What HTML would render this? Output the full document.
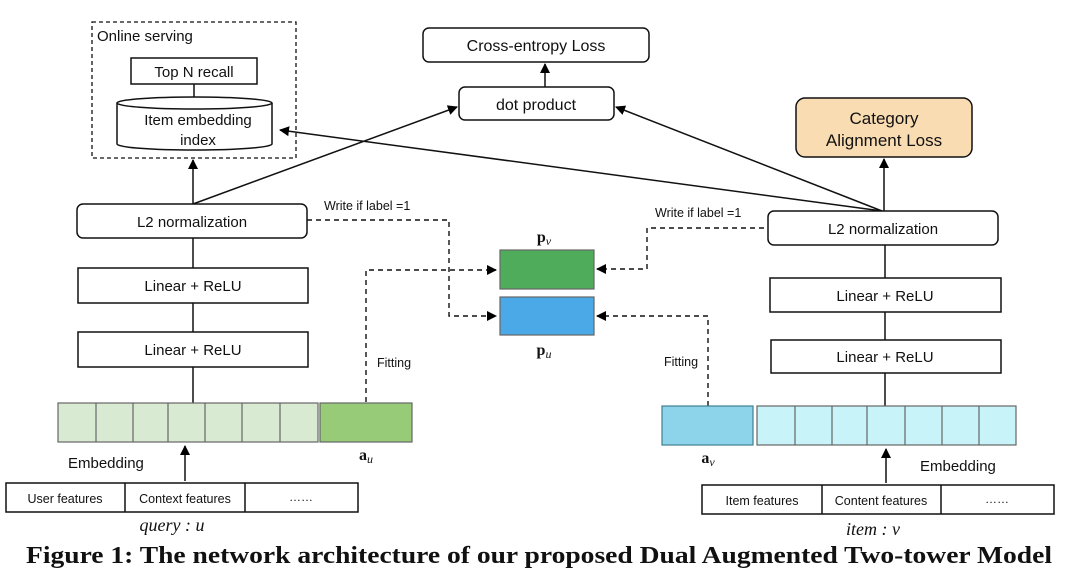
<!DOCTYPE html>
<html><head><meta charset="utf-8"><style>
html,body{margin:0;padding:0;background:#fff;}
svg{display:block;}
text{font-family:"Liberation Sans",sans-serif;fill:#111;}
text.s, tspan.s{font-family:"Liberation Serif",serif;}
.m{font-family:"Liberation Serif",serif;font-style:italic;}
</style></head><body>
<svg width="1080" height="579" viewBox="0 0 1080 579" xmlns="http://www.w3.org/2000/svg">
<defs>
<marker id="a" markerWidth="10" markerHeight="10" refX="9" refY="5" orient="auto" markerUnits="userSpaceOnUse"><path d="M0,0 L10,5 L0,10 z" fill="#000"/></marker>
</defs>
<g stroke="#111" stroke-width="1.5" fill="none">
<rect x="92" y="22" width="204" height="136" stroke-dasharray="4,3" stroke-width="1.3"/>
<rect x="131" y="58" width="126" height="26" fill="#fff"/>
<line x1="194" y1="84" x2="194" y2="97"/>
<path d="M117,103 L117,144 A77,6 0 0 0 272,144 L272,103" fill="#fff"/>
<ellipse cx="194.5" cy="103" rx="77.5" ry="6" fill="#fff"/>
<line x1="193" y1="204" x2="193" y2="160" marker-end="url(#a)"/>
<rect x="77" y="204" width="230" height="34" rx="6" fill="#fff"/>
<line x1="193" y1="238" x2="193" y2="268"/>
<rect x="78" y="268" width="230" height="35" fill="#fff"/>
<line x1="193" y1="303" x2="193" y2="332"/>
<rect x="78" y="332" width="230" height="35" fill="#fff"/>
<line x1="193" y1="367" x2="193" y2="403"/>
<rect x="423" y="28" width="226" height="34" rx="6" fill="#fff"/>
<rect x="459" y="87" width="155" height="33" rx="6" fill="#fff"/>
<line x1="545" y1="87" x2="545" y2="64" marker-end="url(#a)"/>
<rect x="796" y="98" width="176" height="59" rx="9" fill="#f9dcb2"/>
<line x1="193" y1="204" x2="457" y2="107" marker-end="url(#a)"/>
<line x1="882" y1="211" x2="616" y2="107" marker-end="url(#a)"/>
<line x1="882" y1="211" x2="280" y2="130" marker-end="url(#a)"/>
<line x1="884" y1="211" x2="884" y2="159" marker-end="url(#a)"/>
<rect x="768" y="211" width="230" height="34" rx="6" fill="#fff"/>
<line x1="885" y1="245" x2="885" y2="278"/>
<rect x="770" y="278" width="231" height="34" fill="#fff"/>
<line x1="885" y1="312" x2="885" y2="340"/>
<rect x="771" y="340" width="230" height="33" fill="#fff"/>
<line x1="885" y1="373" x2="885" y2="406"/>
<g stroke-dasharray="5,4" stroke-width="1.4">
<path d="M307,220 L449,220 L449,316 L496,316" marker-end="url(#a)"/>
<path d="M366,402 L366,270 L496,270" marker-end="url(#a)"/>
<path d="M764,228 L647,228 L647,269 L597,269" marker-end="url(#a)"/>
<path d="M708,406 L708,316 L597,316" marker-end="url(#a)"/>
</g>
</g>
<g stroke="#666" stroke-width="1.2">
<rect x="500" y="250" width="94" height="39" fill="#4fac5b"/>
<rect x="500" y="297" width="94" height="38" fill="#4aa9e6"/>
<rect x="58" y="403" width="260" height="39" fill="#d9ead3"/>
<line x1="96" y1="403" x2="96" y2="442"/><line x1="133" y1="403" x2="133" y2="442"/><line x1="168" y1="403" x2="168" y2="442"/><line x1="205" y1="403" x2="205" y2="442"/><line x1="242" y1="403" x2="242" y2="442"/><line x1="280" y1="403" x2="280" y2="442"/>
<rect x="320" y="403" width="92" height="39" fill="#97cb78"/>
<rect x="662" y="406" width="91" height="39" fill="#8dd3ea" stroke="#3f7f90"/>
<rect x="757" y="406" width="259" height="39" fill="#c8f3f8"/>
<line x1="795" y1="406" x2="795" y2="445"/><line x1="832" y1="406" x2="832" y2="445"/><line x1="867" y1="406" x2="867" y2="445"/><line x1="905" y1="406" x2="905" y2="445"/><line x1="942" y1="406" x2="942" y2="445"/><line x1="979" y1="406" x2="979" y2="445"/>
</g>
<g stroke="#111" stroke-width="1.5" fill="none">
<line x1="185" y1="481" x2="185" y2="446" marker-end="url(#a)"/>
<line x1="886" y1="483" x2="886" y2="449" marker-end="url(#a)"/>
<rect x="6" y="483" width="352" height="29" fill="#fff"/>
<line x1="125" y1="483" x2="125" y2="512"/><line x1="245" y1="483" x2="245" y2="512"/>
<rect x="702" y="485" width="352" height="29" fill="#fff"/>
<line x1="822" y1="485" x2="822" y2="514"/><line x1="941" y1="485" x2="941" y2="514"/>
</g>
<text x="97" y="41" font-size="15">Online serving</text>
<text x="194" y="77" font-size="15" text-anchor="middle">Top N recall</text>
<text x="198" y="125" font-size="15" text-anchor="middle">Item embedding</text>
<text x="198" y="145" font-size="15" text-anchor="middle">index</text>
<text x="536" y="51" font-size="16" text-anchor="middle">Cross-entropy Loss</text>
<text x="536" y="110" font-size="16" text-anchor="middle">dot product</text>
<text x="884" y="124" font-size="17" text-anchor="middle">Category</text>
<text x="884" y="146" font-size="17" text-anchor="middle">Alignment Loss</text>
<text x="192" y="227" font-size="15" text-anchor="middle">L2 normalization</text>
<text x="883" y="234" font-size="15" text-anchor="middle">L2 normalization</text>
<text x="193" y="291" font-size="15" text-anchor="middle">Linear + ReLU</text>
<text x="193" y="355" font-size="15" text-anchor="middle">Linear + ReLU</text>
<text x="885" y="301" font-size="15" text-anchor="middle">Linear + ReLU</text>
<text x="885" y="362" font-size="15" text-anchor="middle">Linear + ReLU</text>
<text x="324" y="210" font-size="12.5">Write if label =1</text>
<text x="655" y="217" font-size="12.5">Write if label =1</text>
<text x="377" y="367" font-size="12.5">Fitting</text>
<text x="664" y="366" font-size="12.5">Fitting</text>
<text class="s" x="544" y="242" font-size="16" font-weight="bold" text-anchor="middle">p<tspan class="m" font-weight="normal" font-size="12" dy="3">v</tspan></text>
<text class="s" x="544" y="355" font-size="16" font-weight="bold" text-anchor="middle">p<tspan class="m" font-weight="normal" font-size="12" dy="3">u</tspan></text>
<text class="s" x="366" y="460" font-size="16" font-weight="bold" text-anchor="middle">a<tspan class="m" font-weight="normal" font-size="12" dy="3">u</tspan></text>
<text class="s" x="708" y="463" font-size="16" font-weight="bold" text-anchor="middle">a<tspan class="m" font-weight="normal" font-size="12" dy="3">v</tspan></text>
<text x="68" y="468" font-size="15">Embedding</text>
<text x="920" y="471" font-size="15">Embedding</text>
<text x="65" y="503" font-size="12.5" text-anchor="middle">User features</text>
<text x="185" y="503" font-size="12.5" text-anchor="middle">Context features</text>
<text x="301" y="501" font-size="12" text-anchor="middle">……</text>
<text x="762" y="505" font-size="12.5" text-anchor="middle">Item features</text>
<text x="881" y="505" font-size="12.5" text-anchor="middle">Content features</text>
<text x="997" y="503" font-size="12" text-anchor="middle">……</text>
<text x="172" y="531" font-size="18" class="m" text-anchor="middle">query : u</text>
<text x="873" y="535" font-size="18" class="m" text-anchor="middle">item : v</text>
<text class="s" x="539" y="563" font-size="24" font-weight="bold" text-anchor="middle" textLength="1026" lengthAdjust="spacingAndGlyphs">Figure 1: The network architecture of our proposed Dual Augmented Two-tower Model</text>
</svg>
</body></html>
